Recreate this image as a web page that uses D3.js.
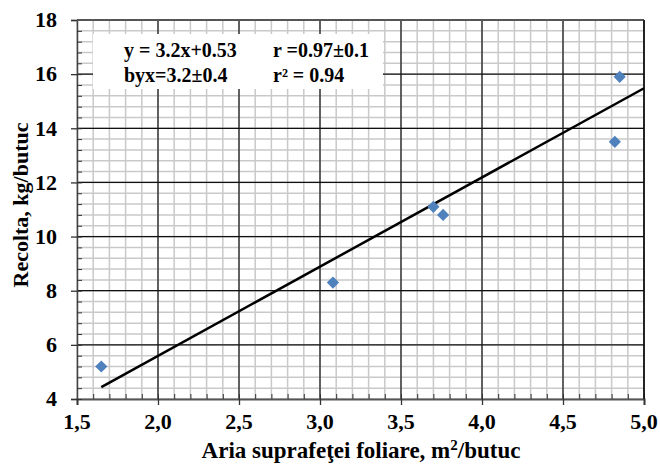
<!DOCTYPE html>
<html lang="ro">
  <head>
    <meta charset="UTF-8" />
    <title>Recolta</title>
    <style>
      body {
        margin: 0;
        background: #fff;
      }
    </style>
    <script src="https://cdn.jsdelivr.net/npm/d3@7"></script>
  </head>
  <body>
    <div class="chart-box"></div>
    <script>
      // points
      const areaVals = [1.65, 3.08, 3.7, 3.76, 4.82, 4.85];
      const yieldVals = [5.2, 8.3, 11.1, 10.8, 13.5, 15.9];
      // trend line ends
      const trendX = [1.65, 5.0];
      const trendY = [4.44, 15.48];

      const xTicks = [1.5, 2.0, 2.5, 3.0, 3.5, 4.0, 4.5, 5.0];
      const xTickLabels = ["1,5", "2,0", "2,5", "3,0", "3,5", "4,0", "4,5", "5,0"];
      const yTicks = [4, 6, 8, 10, 12, 14, 16, 18];

      const statsLeft = ["y = 3.2x+0.53", "byx=3.2±0.4"];
      const statsRight = ["r =0.97±0.1", "r² = 0.94"];

      const FONT = "Liberation Serif";

      function init() {
        const W = 660,
          H = 466;
        const margin = { top: 20, right: 16, bottom: 67, left: 77 };
        const width = W - margin.left - margin.right;
        const height = H - margin.top - margin.bottom;

        const svg = d3
          .select(".chart-box")
          .append("svg")
          .attr("width", W)
          .attr("height", H)
          .attr("font-family", FONT)
          .attr("font-weight", "bold");

        const x = d3.scaleLinear().domain([1.5, 5]).range([0, width]);
        const y = d3.scaleLinear().domain([4, 18]).range([height, 0]);

        const g = svg
          .append("g")
          .attr("transform", "translate(" + margin.left + "," + margin.top + ")");

        // minor grid
        const xMinor = d3.range(15, 51).map((d) => d / 10);
        const yMinor = d3.range(0, 36).map((d) => 4 + d * 0.4);

        g.append("g")
          .selectAll("line")
          .data(xMinor)
          .enter()
          .append("line")
          .attr("x1", (d) => x(d))
          .attr("x2", (d) => x(d))
          .attr("y1", 0)
          .attr("y2", height)
          .attr("stroke", "#c9c9c9")
          .attr("stroke-width", 1.5);

        g.append("g")
          .selectAll("line")
          .data(yMinor)
          .enter()
          .append("line")
          .attr("x1", 0)
          .attr("x2", width)
          .attr("y1", (d) => y(d))
          .attr("y2", (d) => y(d))
          .attr("stroke", "#c9c9c9")
          .attr("stroke-width", 1.5);

        // major grid
        g.append("g")
          .selectAll("line")
          .data(xTicks.slice(1))
          .enter()
          .append("line")
          .attr("x1", (d) => x(d))
          .attr("x2", (d) => x(d))
          .attr("y1", 0)
          .attr("y2", height)
          .attr("stroke", "#111")
          .attr("stroke-width", 1.2);

        g.append("g")
          .selectAll("line")
          .data(yTicks.slice(1))
          .enter()
          .append("line")
          .attr("x1", 0)
          .attr("x2", width)
          .attr("y1", (d) => y(d))
          .attr("y2", (d) => y(d))
          .attr("stroke", "#111")
          .attr("stroke-width", 1.2);

        // text box
        const box = g.append("g");
        box
          .append("rect")
          .attr("x", 93 - margin.left)
          .attr("y", 34 - margin.top)
          .attr("width", 290)
          .attr("height", 55)
          .attr("fill", "#fff");

        box
          .selectAll(".s1")
          .data(statsLeft)
          .enter()
          .append("text")
          .attr("font-family", FONT)
          .attr("font-size", 20)
          .attr("x", 124 - margin.left)
          .attr("y", (d, i) => 57 - margin.top + i * 25)
          .text((d) => d);

        box
          .selectAll(".s2")
          .data(statsRight)
          .enter()
          .append("text")
          .attr("font-family", FONT)
          .attr("font-size", 20)
          .attr("x", 273 - margin.left)
          .attr("y", (d, i) => 57 - margin.top + i * 25)
          .text((d) => d);

        // axes
        const xAxis = g
          .append("g")
          .attr("transform", "translate(0," + height + ")")
          .call(d3.axisBottom(x).tickValues(xTicks).tickSize(6).tickFormat(""));
        xAxis.select(".domain").attr("stroke", "#555").attr("stroke-width", 2);
        xAxis.selectAll(".tick line").attr("stroke", "#333").attr("stroke-width", 1.3);

        g.append("g")
          .attr("transform", "translate(0," + height + ")")
          .call(d3.axisTop(x).tickValues(xMinor).tickSize(5).tickFormat(""))
          .call((s) => s.select(".domain").remove())
          .selectAll(".tick line")
          .attr("stroke", "#333");

        const yAxis = g
          .append("g")
          .call(d3.axisLeft(y).tickValues(yTicks).tickSize(6).tickFormat(""));
        yAxis.select(".domain").attr("stroke", "#444").attr("stroke-width", 1.5);
        yAxis.selectAll(".tick line").attr("stroke", "#333").attr("stroke-width", 1.3);

        g.append("g")
          .call(d3.axisRight(y).tickValues(yMinor).tickSize(5).tickFormat(""))
          .call((s) => s.select(".domain").remove())
          .selectAll(".tick line")
          .attr("stroke", "#333");

        // frame top/right
        g.append("line")
          .attr("x1", 0)
          .attr("x2", width)
          .attr("y1", 0)
          .attr("y2", 0)
          .attr("stroke", "#555")
          .attr("stroke-width", 2);
        g.append("line")
          .attr("x1", width)
          .attr("x2", width)
          .attr("y1", 0)
          .attr("y2", height)
          .attr("stroke", "#111")
          .attr("stroke-width", 1.5);

        // tick labels
        g.append("g")
          .selectAll("text")
          .data(xTicks)
          .enter()
          .append("text")
          .attr("font-family", FONT)
          .attr("font-size", 22)
          .attr("x", (d) => x(d))
          .attr("y", height + 30)
          .attr("text-anchor", "middle")
          .text((d, i) => xTickLabels[i]);

        g.append("g")
          .selectAll("text")
          .data(yTicks)
          .enter()
          .append("text")
          .attr("font-family", FONT)
          .attr("font-size", 22)
          .attr("x", -20)
          .attr("y", (d) => y(d))
          .attr("dy", "0.33em")
          .attr("text-anchor", "end")
          .text((d) => d);

        // trend line
        const line = d3
          .line()
          .x((d) => x(d[0]))
          .y((d) => y(d[1]));
        g.append("path")
          .datum(trendX.map((d, i) => [d, trendY[i]]))
          .attr("d", line)
          .attr("fill", "none")
          .attr("stroke", "#000")
          .attr("stroke-width", 2.5);

        // points
        g.append("g")
          .selectAll("path")
          .data(areaVals)
          .enter()
          .append("path")
          .attr("d", d3.symbol(d3.symbolDiamond2, 95))
          .attr("transform", (d, i) => "translate(" + x(d) + "," + y(yieldVals[i]) + ")")
          .attr("fill", "#4f81bd");

        // axis titles
        svg
          .append("text")
          .attr("font-family", FONT)
          .attr("font-size", 23)
          .attr("x", 361)
          .attr("y", 458)
          .attr("text-anchor", "middle")
          .html('Aria suprafeţei foliare, m<tspan dy="-8" font-size="15">2</tspan><tspan dy="8">/butuc</tspan>');

        svg
          .append("text")
          .attr("font-family", FONT)
          .attr("font-size", 22)
          .attr("transform", "translate(28,205) rotate(-90)")
          .attr("text-anchor", "middle")
          .text("Recolta, kg/butuc");
      }

      init();
    </script>
  </body>
</html>
